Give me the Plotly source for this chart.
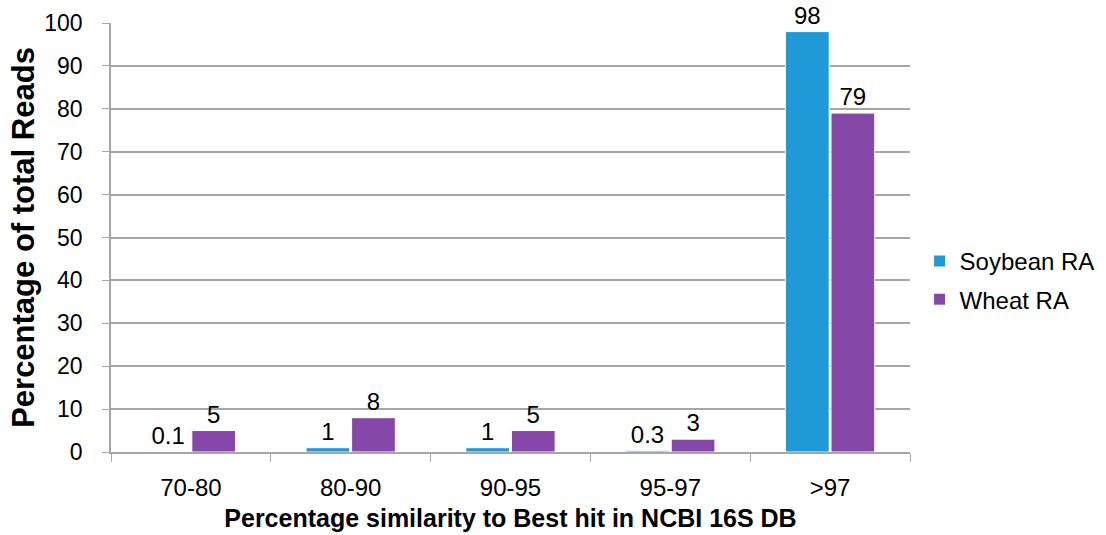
import plotly.graph_objects as go

categories = ["70-80", "80-90", "90-95", "95-97", ">97"]
soybean = [0.1, 1, 1, 0.3, 98]
wheat = [5, 8, 5, 3, 79]
soybean_labels = ["0.1", "1", "1", "0.3", "98"]
wheat_labels = ["5", "8", "5", "3", "79"]

FONT = "Liberation Sans, Arial, sans-serif"
GRID = "#A6A6A6"

fig = go.Figure()
fig.add_trace(go.Bar(
    name="Soybean RA", x=categories, y=soybean, legendgroup="soy",
    text=soybean_labels, textposition="outside",
    textfont=dict(size=24, color="#000000", family=FONT),
    marker=dict(color="#1F9AD6", line=dict(color="#FFFFFF", width=1)),
    cliponaxis=False,
))
fig.add_trace(go.Bar(
    name="Wheat RA", x=categories, y=wheat, legendgroup="wheat",
    text=wheat_labels, textposition="outside",
    textfont=dict(size=24, color="#000000", family=FONT),
    marker=dict(color="#8547A8", line=dict(color="#FFFFFF", width=1)),
    cliponaxis=False,
))

fig.update_layout(
    width=1106, height=535,
    margin=dict(l=111, r=196, t=23, b=83, autoexpand=False),
    paper_bgcolor="#FFFFFF", plot_bgcolor="#FFFFFF",
    barmode="group", bargap=0.43, bargroupgap=0.04,
    font=dict(family=FONT, size=24, color="#000000"),
    showlegend=True,
    legend=dict(x=1.012, y=0.40, yanchor="middle", xanchor="left",
                font=dict(size=24), itemwidth=30, tracegroupgap=4),
    uniformtext=dict(mode=False),
)
fig.update_xaxes(
    automargin=False,
    showline=True, linecolor=GRID, linewidth=1.5,
    ticks="outside", tickson="boundaries", ticklen=8, tickcolor=GRID,
    tickfont=dict(size=24), ticklabelstandoff=13,
    title=dict(text="<b>Percentage similarity to Best hit in NCBI 16S DB</b>",
               font=dict(size=25), standoff=10),
)
fig.update_yaxes(
    automargin=False,
    range=[0, 100], dtick=10,
    showline=True, linecolor=GRID, linewidth=1.5,
    showgrid=True, gridcolor=GRID, gridwidth=1.5,
    ticks="outside", ticklen=7, tickcolor=GRID,
    tickfont=dict(size=23), ticklabelstandoff=15,
    title=dict(text="<b>Percentage of total Reads</b>", font=dict(size=31), standoff=0),
    zeroline=False,
)

fig.write_html("out.html")
